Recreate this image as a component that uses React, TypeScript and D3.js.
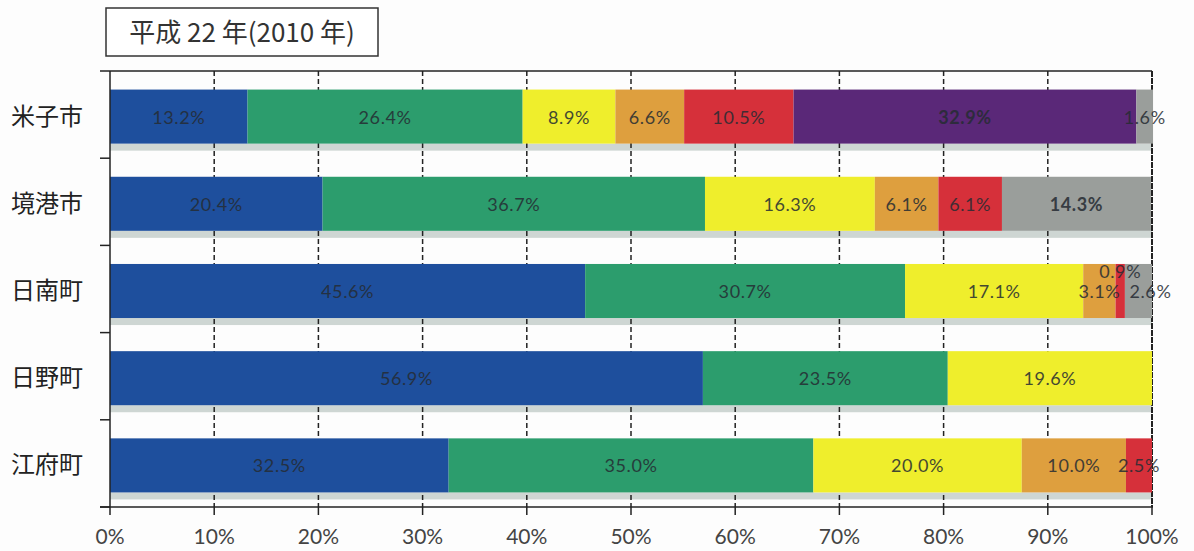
import React from "react";
import * as d3 from "d3";

const title = "平成 22 年(2010 年)";
const categories = ["米子市", "境港市", "日南町", "日野町", "江府町"];
const seriesNames = ["区分1", "区分2", "区分3", "区分4", "区分5", "区分6", "区分7"];
const seriesColors = ["#1e4f9d", "#2c9d6d", "#efee2c", "#de9f3e", "#d6303a", "#5a2878", "#9a9e9b"];
const s1 = [13.2, 20.4, 45.6, 56.9, 32.5];
const s2 = [26.4, 36.7, 30.7, 23.5, 35.0];
const s3 = [8.9, 16.3, 17.1, 19.6, 20.0];
const s4 = [6.6, 6.1, 3.1, 0, 10.0];
const s5 = [10.5, 6.1, 0.9, 0, 2.5];
const s6 = [32.9, 0, 0, 0, 0];
const s7 = [1.6, 14.3, 2.6, 0, 0];
const seriesValues = [s1, s2, s3, s4, s5, s6, s7];
const boldLabels = [["米子市", 5], ["境港市", 6]];
const xTicks = [0, 10, 20, 30, 40, 50, 60, 70, 80, 90, 100];

export default function App() {
  const W = 1194, H = 551;
  const left = 110, right = 1152, top = 71, bottom = 507;
  const x = d3.scaleLinear().domain([0, 100]).range([left, right]);
  const y = d3.scaleBand<string>().domain(categories).range([top + 2, bottom + 2]).paddingInner(0.38).paddingOuter(0.19);
  const rows = categories.map((c, i) => {
    const obj: any = { cat: c };
    seriesNames.forEach((s, j) => (obj[s] = seriesValues[j][i]));
    return obj;
  });
  const stacked = d3.stack().keys(seriesNames)(rows);
  const bw = y.bandwidth();
  const step = (bottom - top) / categories.length;
  const numFont = "Lato, 'Open Sans', sans-serif";
  const jpFont = "'Noto Sans CJK JP', sans-serif";

  const labelOffset = (cat: string, j: number) => {
    if (cat === "日南町" && j === 4) return { dx: 0, dy: -20 };
    if (cat === "日南町" && j === 6) return { dx: 12, dy: 0 };
    return { dx: 0, dy: 0 };
  };

  return (
    <svg width={W} height={H} style={{ position: "absolute", left: 0, top: 0, background: "#fdfdfd" }}>
      {/* title box */}
      <rect x={106} y={8} width={272} height={48} fill="#fff" stroke="#333" strokeWidth={1.5} />
      <text x={242} y={42} textAnchor="middle" fontFamily={jpFont} fontSize={26} fill="#333">{title}</text>

      {/* shadows under bars */}
      {categories.map((c) => (
        <rect key={"sh" + c} x={left} y={(y(c) as number) + bw} width={right - left} height={7} fill="#c2ccc8" opacity={0.8} />
      ))}

      {/* gridlines */}
      {xTicks.slice(1).map((t) => (
        <line key={"g" + t} x1={x(t)} x2={x(t)} y1={top} y2={bottom} stroke="#222" strokeWidth={t === 100 ? 2 : 1.5}
          strokeDasharray={t === 100 ? "6,1" : "5,3"} />
      ))}

      {/* bars */}
      {stacked.map((layer, j) =>
        layer.map((d, i) => {
          const w = x(d[1]) - x(d[0]);
          if (w <= 0) return null;
          return (
            <rect key={j + "-" + i} x={x(d[0])} y={y(categories[i])} width={w} height={bw} fill={seriesColors[j]} />
          );
        })
      )}

      {/* labels */}
      {stacked.map((layer, j) =>
        layer.map((d, i) => {
          const v = seriesValues[j][i];
          if (!v) return null;
          const cat = categories[i];
          const off = labelOffset(cat, j);
          const bold = boldLabels.some(([c, k]) => c === cat && k === j);
          return (
            <text key={"l" + j + "-" + i} x={(x(d[0]) + x(d[1])) / 2 + off.dx} y={(y(cat) as number) + bw / 2 + 7 + off.dy}
              textAnchor="middle" fontFamily={numFont} fontSize={18} fontWeight={bold ? 700 : 400}
              fill="#262c33" opacity={0.85} letterSpacing={0.6}>
              {v.toFixed(1) + "%"}
            </text>
          );
        })
      )}

      {/* axes */}
      <line x1={100} x2={right} y1={top} y2={top} stroke="#222" strokeWidth={1.5} />
      <line x1={100} x2={right + 1} y1={bottom} y2={bottom} stroke="#222" strokeWidth={1.5} />
      <line x1={left} x2={left} y1={top} y2={bottom} stroke="#222" strokeWidth={1.5} />
      {categories.map((c, i) => (
        <line key={"ct" + c} x1={100} x2={left} y1={top + step * (i + 1)} y2={top + step * (i + 1)} stroke="#222" strokeWidth={1.5} />
      ))}
      {xTicks.map((t) => (
        <line key={"xt" + t} x1={x(t)} x2={x(t)} y1={bottom} y2={bottom + 8} stroke="#222" strokeWidth={1.5} />
      ))}
      {xTicks.map((t) => (
        <text key={"xl" + t} x={x(t)} y={544} textAnchor="middle" fontFamily={numFont} fontSize={21} fill="#444">{t + "%"}</text>
      ))}
      {categories.map((c) => (
        <text key={"cl" + c} x={83} y={(y(c) as number) + bw / 2 + 8} textAnchor="end" fontFamily={jpFont} fontSize={24} fill="#222">{c}</text>
      ))}
    </svg>
  );
}
